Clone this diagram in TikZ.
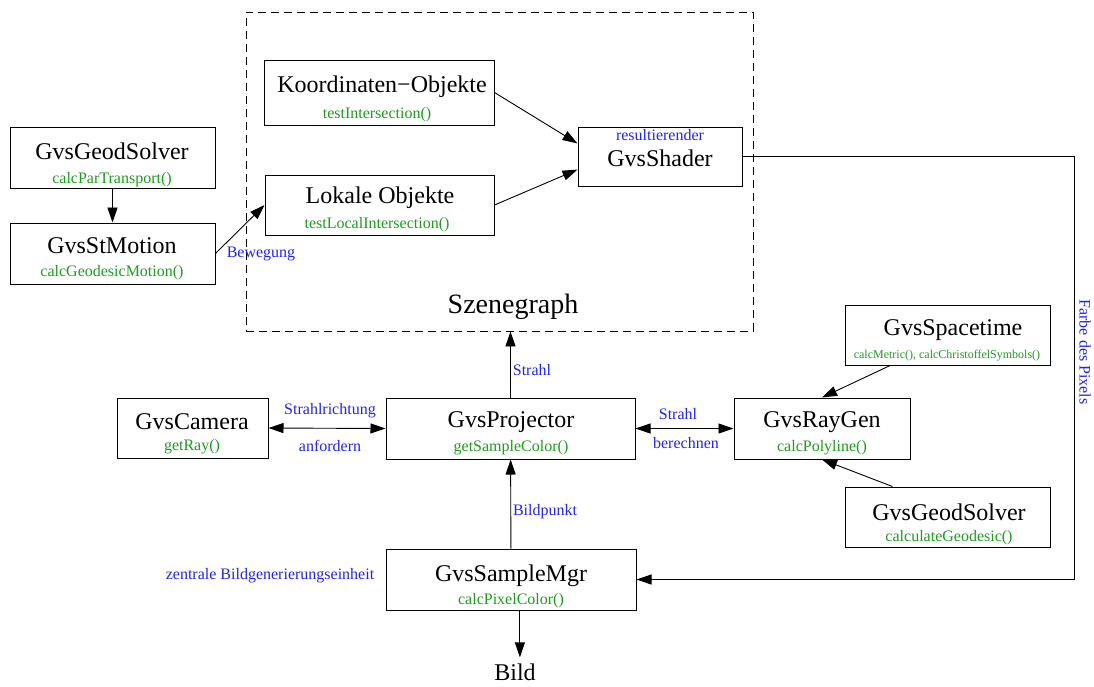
\documentclass[tikz,border=0pt]{standalone}
\usepackage{fontspec}
\setmainfont{Liberation Serif}
\usetikzlibrary{arrows.meta,positioning}
\definecolor{labblue}{RGB}{35,35,235}
\definecolor{methgreen}{RGB}{30,155,30}
\tikzset{
  box/.style={draw, rectangle, inner sep=0pt, line width=1pt},
  title/.style={inner sep=0pt, font=\fontsize{24}{28}\selectfont},
  meth/.style={inner sep=0pt, text=methgreen, font=\fontsize{16}{18}\selectfont},
  lab/.style={inner sep=0pt, text=labblue, font=\fontsize{16}{18}\selectfont},
  arr/.style={-{Triangle[length=15pt,width=10pt]}, line width=0.9pt},
  dblarr/.style={{Triangle[length=15pt,width=10pt]}-{Triangle[length=15pt,width=10pt]}, line width=0.9pt},
}
\begin{document}
\begin{tikzpicture}[x=1pt,y=-1pt]
  \useasboundingbox (0,0) rectangle (1094,686);

  % Szenegraph
  \node [draw, dash pattern=on 8pt off 5pt, line width=0.9pt, inner sep=0pt,
         minimum width=507pt, minimum height=319pt] (scene) at (499.5,171.5) {};
  \node [inner sep=0pt, font=\fontsize{28}{32}\selectfont] (scenet) at (513,307) {Szenegraph};

  % boxes
  \node [box, minimum width=205pt, minimum height=61pt] (geodl) at (112.5,157.5) {};
  \node [box, minimum width=205pt, minimum height=61pt] (stm) at (112.5,253.5) {};
  \node [box, minimum width=230pt, minimum height=65pt] (koord) at (379,92.5) {};
  \node [box, minimum width=229pt, minimum height=60pt] (lokal) at (379.5,205) {};
  \node [box, minimum width=164pt, minimum height=59pt] (shader) at (660,156.5) {};
  \node [box, minimum width=151pt, minimum height=60pt] (cam) at (192.5,428) {};
  \node [box, minimum width=249pt, minimum height=61pt] (proj) at (510.5,428.5) {};
  \node [box, minimum width=176pt, minimum height=61pt] (raygen) at (822,428.5) {};
  \node [box, minimum width=205pt, minimum height=60pt] (spacet) at (947.5,335) {};
  \node [box, minimum width=205pt, minimum height=60pt] (geodr) at (947.5,517) {};
  \node [box, minimum width=250pt, minimum height=61pt] (sample) at (511,579.5) {};

  % input nodes position and text
  \node [title] (geodlt) at (112,151) {GvsGeodSolver};
  \node [meth] (geodlm) at (112,180) {calcParTransport()};
  \node [title] (stmt) at (112,246) {GvsStMotion};
  \node [meth] (stmm) at (112,273) {calcGeodesicMotion()};
  \node [title] (koordt) at (382,87) {Koordinaten−Objekte};
  \node [meth] (koordm) at (377,115) {testIntersection()};
  \node [title] (lokalt) at (380,198) {Lokale Objekte};
  \node [meth] (lokalm) at (377,225) {testLocalIntersection()};
  \node [lab] (shaderl) at (660,135) {resultierender};
  \node [title] (shadert) at (660,158) {GvsShader};
  \node [title] (camt) at (192,422) {GvsCamera};
  \node [meth] (camm) at (192,447) {getRay()};
  \node [title] (projt) at (511,422) {GvsProjector};
  \node [meth] (projm) at (511,448) {getSampleColor()};
  \node [title] (raygent) at (822,422) {GvsRayGen};
  \node [meth] (raygenm) at (822,448) {calcPolyline()};
  \node [title] (spacett) at (953,330) {GvsSpacetime};
  \node [meth, font=\fontsize{12}{14}\selectfont] (spacetm) at (947,356) {calcMetric(), calcChristoffelSymbols()};
  \node [title] (geodrt) at (949,512) {GvsGeodSolver};
  \node [meth] (geodrm) at (949,538) {calculateGeodesic()};
  \node [title] (samplet) at (511,576) {GvsSampleMgr};
  \node [meth] (samplem) at (511,601) {calcPixelColor()};
  \node [title, inner ysep=6pt] (bild) at (515,672) {Bild};

  % labels
  \node [lab] (bew) at (261,254) {Bewegung};
  \node [lab] (strahl) at (532,370) {Strahl};
  \node [lab] (richt) at (330,411) {Strahlrichtung};
  \node [lab] (anf) at (330,446) {anfordern};
  \node [lab] (strahlr) at (678,414) {Strahl};
  \node [lab] (ber) at (686,443) {berechnen};
  \node [lab] (bpunkt) at (545,512) {Bildpunkt};
  \node [lab] (zentral) at (270,576) {zentrale Bildgenerierungseinheit};
  \node [lab, rotate=-90] (farbe) at (1085,352) {Farbe des Pixels};

  \coordinate (turn) at (1074,156.5);

  % connectors
  \draw [arr] (geodl) -- (stm);
  \draw [arr] (stm.east) -- (lokal.west);
  \draw [arr] (koord.east) -- (shader.171);
  \draw [arr] (lokal.east) -- (shader.189);
  \draw [arr] (shader.east) -- (turn) |- (sample.east);
  \draw [arr] (proj) -- (proj |- scene.south);
  \draw [dblarr] (cam.east) -- (proj.west);
  \draw [dblarr] (proj.east) -- (raygen.west);
  \draw [arr] (spacet.208) -- (raygen.north);
  \draw [arr] (geodr.151) -- (raygen.south);
  \draw [arr] (sample) -- (proj);
  \draw [arr] (sample.286) -- (sample.286 |- bild.north);
\end{tikzpicture}
\end{document}
